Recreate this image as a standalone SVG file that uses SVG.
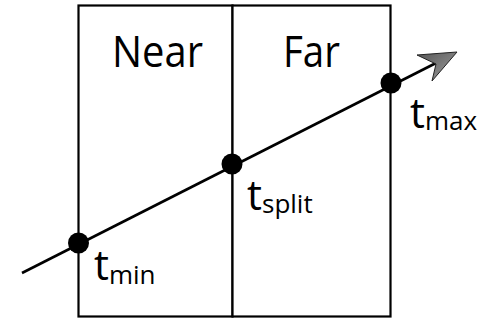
<svg xmlns="http://www.w3.org/2000/svg" width="490" height="321" viewBox="0 0 490 321">
<defs>
<style>
.box{fill:#fff;stroke:#000;stroke-width:2.2}
.ray{stroke:#000;stroke-width:2.6;fill:none}
.dot{fill:#000}
.lbl{font-family:"Open Sans","Liberation Sans",sans-serif;fill:#000}
</style>
<linearGradient id="ag" x1="0" y1="0" x2="1" y2="1">
<stop offset="0" stop-color="#555"/>
<stop offset="1" stop-color="#a0a0a0"/>
</linearGradient>
</defs>
<g id="near">
<rect class="box" x="78.5" y="5.5" width="154" height="311"/>
<text class="lbl" x="112" y="67" font-size="44" textLength="91" lengthAdjust="spacingAndGlyphs">Near</text>
</g>
<g id="far">
<rect class="box" x="232.5" y="5.5" width="158" height="311"/>
<text class="lbl" x="283" y="67" font-size="44" textLength="57" lengthAdjust="spacingAndGlyphs">Far</text>
</g>
<g id="connectors">
<line class="ray" x1="22" y1="273" x2="438" y2="62"/>
<path d="M457,52 L417,55 L436,64 L432,81 Z" fill="url(#ag)" stroke="#222" stroke-width="1"/>
</g>
<g id="tmin">
<circle class="dot" cx="78.5" cy="243" r="10.5"/>
<text class="lbl" x="94" y="280" font-size="42">t<tspan font-size="26" dy="4">min</tspan></text>
</g>
<g id="tsplit">
<circle class="dot" cx="232" cy="164" r="10.5"/>
<text class="lbl" x="247" y="210" font-size="42">t<tspan font-size="26" dy="3">split</tspan></text>
</g>
<g id="tmax">
<circle class="dot" cx="391" cy="83" r="10.5"/>
<text class="lbl" x="410" y="128" font-size="42">t<tspan font-size="26" dy="2">max</tspan></text>
</g>
</svg>
